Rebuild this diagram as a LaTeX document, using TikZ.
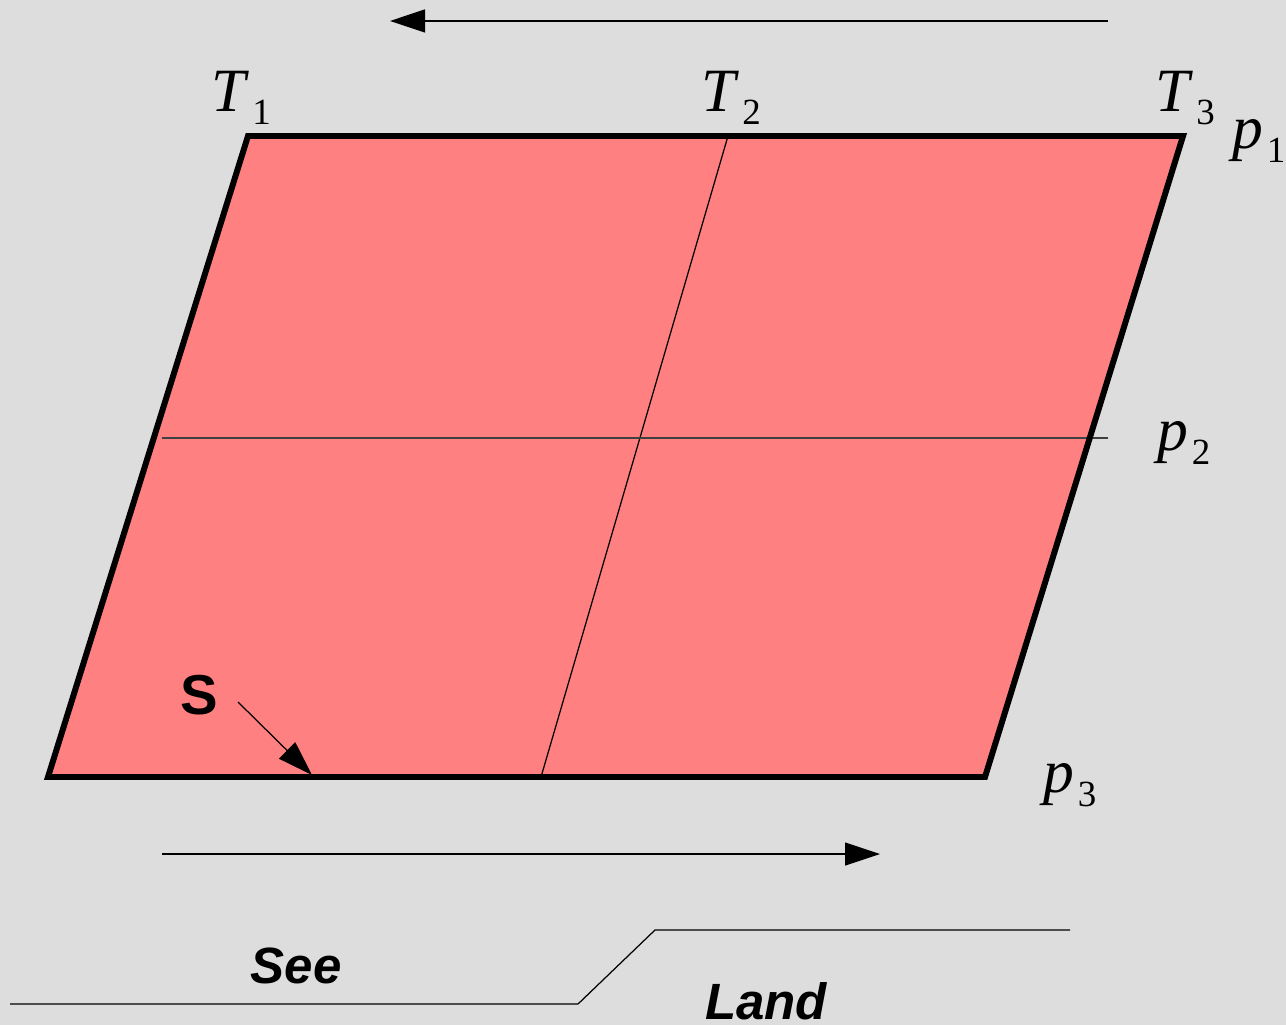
\documentclass[tikz,border=0pt]{standalone}
\usepackage{fontspec}
\setmainfont{Liberation Serif}
\setsansfont{Liberation Sans}
\usetikzlibrary{arrows.meta}
\definecolor{bg}{HTML}{DDDDDD}
\definecolor{plate}{HTML}{FF8080}
\newcommand{\idxlabel}[2]{\textit{#1}\kern1pt\raisebox{-3.9pt}{\fontsize{10.5}{10.5}\selectfont #2}}
\begin{document}
\begin{tikzpicture}[x=0.01cm, y=-0.01cm,
	border/.style={line width=1.7pt, line join=miter},
	fine/.style={line width=0.35pt},
	flow/.style={fine, -{Triangle[length=3.5mm,width=2.3mm]}},
	idx/.style={font=\fontsize{17.5}{17.5}\selectfont},
	region/.style={font=\sffamily\bfseries\itshape\fontsize{14.5}{14.5}\selectfont}]
	\useasboundingbox (0,0) rectangle (1286,1025);
	\fill[bg] (0,0) rectangle (1286,1025);
	% Platte
	\coordinate (tl) at (248,136);
	\coordinate (tr) at (1183,136);
	\coordinate (br) at (985,777);
	\coordinate (bl) at (48,777);
	\coordinate (tm) at (728,136);
	\coordinate (bm) at (541,777);
	\coordinate (ml) at (162,438);
	\coordinate (mr) at (1108,438);
	\fill[plate] (tl) -- (tr) -- (br) -- (bl) -- cycle;
	\draw[fine] (tm) -- (bm);
	\draw[fine, black!75] (ml) -- (mr);
	\draw[border] (tl) -- (tr) -- (br) -- (bl) -- cycle;
	% Bezeichnungen
	\node[idx] (t1) at (241,98) {\idxlabel{T}{1}};
	\node[idx] (t2) at (731,98) {\idxlabel{T}{2}};
	\node[idx] (t3) at (1185,98) {\idxlabel{T}{3}};
	\node[idx] (p1) at (1259,141) {\idxlabel{p}{1}};
	\node[idx] (p2) at (1184,443) {\idxlabel{p}{2}};
	\node[idx] (p3) at (1070,785) {\idxlabel{p}{3}};
	% Bewegung
	\coordinate (top from) at (1108,21);
	\coordinate (top to) at (390,21);
	\coordinate (bot from) at (162,854);
	\coordinate (bot to) at (880,854);
	\draw[flow] (top from) -- (top to);
	\draw[flow] (bot from) -- (bot to);
	\node[font=\sffamily\bfseries\fontsize{16}{16}\selectfont] (s) at (199,695) {S};
	\coordinate (s from) at (238,702);
	\coordinate (s to) at (312,775);
	\draw[flow] (s from) -- (s to);
	% Kueste
	\coordinate (c1) at (10,1004);
	\coordinate (c2) at (578,1004);
	\coordinate (c3) at (655,930);
	\coordinate (c4) at (1070,930);
	\draw[fine, black!70] (c1) -- (c2);
	\draw[fine] (c2) -- (c3) -- (c4);
	\node[region] (see) at (296,966) {See};
	\node[region] (land) at (766,1001) {Land};
\end{tikzpicture}
\end{document}
